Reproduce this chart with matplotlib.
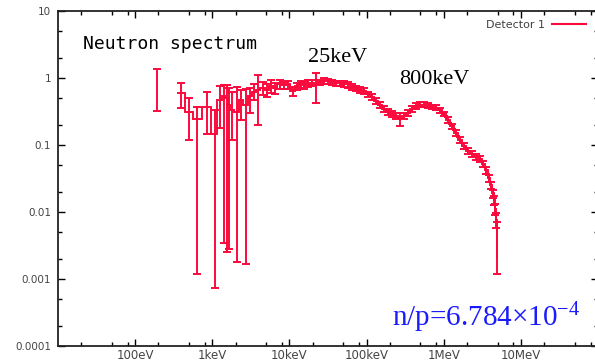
import numpy as np
import matplotlib
matplotlib.use('Agg')
from matplotlib import pyplot as plt
from matplotlib.ticker import LogLocator, NullFormatter, FixedLocator, FixedFormatter

# low energy part: energy (eV), flux and error bar bounds
e_low = [191, 390, 495, 628, 847, 1074, 1248, 1405, 1537, 1631, 1783, 2070,
         2330, 2705, 3048, 3434, 3868, 4490, 5056, 5698, 6416]
f_low = [0.84, 0.60, 0.31, 0.244, 0.37, 0.146, 0.47, 0.54, 0.50, 0.40, 0.33, 0.31,
         0.47, 0.40, 0.54, 0.62, 0.66, 0.71, 0.66, 0.76, 0.71]
hi_low = [1.36, 0.84, 0.50, 0.37, 0.62, 0.33, 0.76, 0.78, 0.79, 0.71, 0.62, 0.74,
          0.66, 0.69, 0.71, 0.81, 1.10, 0.87, 0.81, 0.93, 0.84]
lo_low = [0.32, 0.36, 0.119, 0.0012, 0.146, 0.00073, 0.18, 0.0034, 0.0025, 0.0028, 0.12, 0.0018,
          0.24, 0.0017, 0.30, 0.47, 0.20, 0.56, 0.52, 0.60, 0.58]

# smooth part: energy (eV), flux, relative error
e_high = [7447, 8395, 9445, 10970, 12360, 13930, 15680, 17660, 19900, 22420,
          25250, 28450, 32060, 36120, 40660, 45810, 51620, 58160, 65500, 73800,
          83200, 93700, 105500, 118900, 134000, 151000, 170000, 191500, 215800, 243200,
          273700, 308300, 347500, 391500, 440500, 496600, 559800, 631000, 710000, 800000,
          901000, 1.015e6, 1.143e6, 1.288e6, 1.452e6, 1.633e6, 1.841e6, 2.075e6, 2.337e6, 2.630e6,
          2.965e6, 3.243e6, 3.548e6, 3.881e6, 4.115e6, 4.365e6, 4.498e6, 4.634e6, 4.775e6, 4.920e6]
f_high = [0.80, 0.78, 0.80, 0.64, 0.76, 0.80, 0.78, 0.82, 0.84, 0.80,
          0.86, 0.90, 0.89, 0.86, 0.83, 0.83, 0.81, 0.80, 0.74, 0.70,
          0.67, 0.64, 0.57, 0.52, 0.46, 0.40, 0.35, 0.31, 0.29, 0.27,
          0.25, 0.27, 0.30, 0.35, 0.38, 0.40, 0.40, 0.39, 0.37, 0.36,
          0.33, 0.29, 0.24, 0.19, 0.15, 0.12, 0.097, 0.081, 0.073, 0.066,
          0.062, 0.052, 0.042, 0.032, 0.025, 0.019, 0.015, 0.011, 0.0076, 0.0021]
rel_high = [0.15, 0.13, 0.13, 0.15, 0.12, 0.12, 0.12, 0.12, 0.11, 0.47,
            0.10, 0.10, 0.10, 0.10, 0.10, 0.10, 0.10, 0.10, 0.10, 0.10,
            0.10, 0.10, 0.10, 0.10, 0.10, 0.10, 0.10, 0.10, 0.10, 0.10,
            0.22, 0.10, 0.10, 0.10, 0.10, 0.08, 0.08, 0.08, 0.08, 0.08,
            0.08, 0.08, 0.10, 0.10, 0.10, 0.10, 0.10, 0.10, 0.10, 0.10,
            0.10, 0.10, 0.12, 0.12, 0.12, 0.14, 0.15, 0.18, 0.25, 0.45]

xtick_pos = [1e2, 1e3, 1e4, 1e5, 1e6, 1e7]
xtick_lab = ['100eV', '1keV', '10keV', '100keV', '1MeV', '10MeV']
ytick_pos = [1e-4, 1e-3, 1e-2, 1e-1, 1, 10]
ytick_lab = ['0.0001', '0.001', '0.01', '0.1', '1', '10']

red = '#fa0a3c'

energy = np.array(e_low + e_high, dtype=float)
flux = np.array(f_low + f_high, dtype=float)
f_h = np.array(f_high)
upper = np.concatenate([hi_low, f_h * (1 + np.array(rel_high))])
lower = np.concatenate([lo_low, f_h * (1 - np.array(rel_high))])
lower[-1] = 0.0012
upper[-1] = 0.0070

fig = plt.figure(figsize=(5.95, 3.63), dpi=100)
ax = fig.add_axes([58/595, 17/363, 540/595, 335/363])
ax.set_xscale('log')
ax.set_yscale('log')
ax.set_xlim(10, 1e8)
ax.set_ylim(1e-4, 10)

# histogram steps (first point stands alone)
e_s = energy[1:]
f_s = flux[1:]
mids = np.sqrt(e_s[:-1] * e_s[1:])
edges = np.concatenate([[e_s[0]**2 / mids[0]], mids, [e_s[-1]**2 / mids[-1]]])
ax.stairs(f_s, edges, color=red, lw=1.4, baseline=None)

ax.errorbar(energy, flux, yerr=[flux - lower, upper - flux], fmt='none',
            ecolor=red, elinewidth=1.4, capsize=3, capthick=1.4)

ax.plot([], [], color=red, lw=1.5, label='Detector 1')
leg = ax.legend(loc='upper right', bbox_to_anchor=(586/595, 343/363),
                bbox_transform=fig.transFigure, frameon=False, markerfirst=False,
                fontsize=8, handlelength=3.1, handletextpad=0.6,
                borderpad=0, borderaxespad=0)
for t in leg.get_texts():
    t.set_color('#404040')

ax.xaxis.set_major_locator(FixedLocator(xtick_pos))
ax.xaxis.set_major_formatter(FixedFormatter(xtick_lab))
ax.xaxis.set_minor_locator(LogLocator(base=10, subs=[2, 5, 8]))
ax.xaxis.set_minor_formatter(NullFormatter())
ax.yaxis.set_major_locator(FixedLocator(ytick_pos))
ax.yaxis.set_major_formatter(FixedFormatter(ytick_lab))
ax.yaxis.set_minor_locator(LogLocator(base=10, subs=[2, 5]))
ax.yaxis.set_minor_formatter(NullFormatter())
ax.tick_params(which='both', direction='in', top=True, right=True, width=1)
ax.tick_params(which='major', length=5)
ax.tick_params(which='minor', length=3)
ax.tick_params(axis='x', labelsize=8.5, labelcolor='#444444', pad=2)
ax.tick_params(axis='y', labelsize=7.5, labelcolor='#444444', pad=5)
for s in ax.spines.values():
    s.set_linewidth(1.3)
    s.set_color('#222222')

ax.text(83/595, 1 - 44/363, 'Neutron spectrum', transform=fig.transFigure,
        family='DejaVu Sans Mono', fontsize=13, va='center', ha='left')
ax.text(308/595, 1 - 58/363, '25keV', transform=fig.transFigure,
        family='Liberation Serif', fontsize=16, va='center', ha='left')
ax.text(399/595, 1 - 79/363, '800keV', transform=fig.transFigure,
        family='Liberation Serif', fontsize=16, va='center', ha='left')
plt.rcParams['mathtext.fontset'] = 'custom'
plt.rcParams['mathtext.rm'] = 'Liberation Serif'
plt.rcParams['mathtext.it'] = 'Liberation Serif:italic'
ax.text(392/595, 1 - 318/363, r'n/p=6.784$\times$10$^{-4}$', transform=fig.transFigure,
        family='Liberation Serif', fontsize=21, color='#1a1aff', va='center', ha='left')

fig.savefig('out.png', dpi=100)
